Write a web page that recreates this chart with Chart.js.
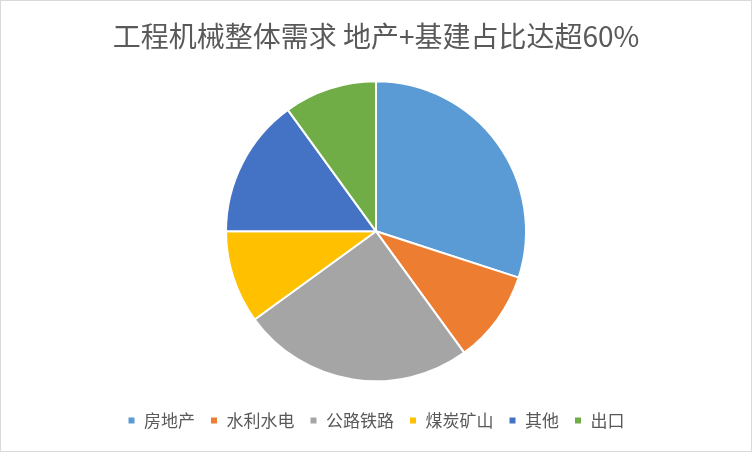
<!DOCTYPE html>
<html>
<head>
<meta charset="utf-8">
<script src="https://cdn.jsdelivr.net/npm/chart.js@4/dist/chart.umd.min.js"></script>
<style>
    html, body { margin: 0; padding: 0; background: #fff; }
    #wrap { width: 752px; height: 452px; box-sizing: border-box; border: 1px solid #d9d9d9; }
</style>
</head>
<body>
<div id="wrap"><canvas id="pieChart" width="750" height="450"></canvas></div>
<script>
// 工程机械需求构成（%）
var categorias = ['房地产', '水利水电', '公路铁路', '煤炭矿山', '其他', '出口'];
var valores = [30, 10, 25, 10, 15, 10];
var colores = ['#5B9BD5', '#ED7D31', '#A5A5A5', '#FFC000', '#4472C4', '#70AD47'];
var titulo = '工程机械整体需求 地产+基建占比达超60%';

function loadChartData() {
    var fuente = "'Noto Sans CJK SC', 'Microsoft YaHei', sans-serif";
    var pieChartCanvas = document.getElementById('pieChart').getContext('2d');
    var pieData = {
        labels: categorias,
        datasets: [
            {
                data: valores,
                backgroundColor: colores,
                borderColor: '#ffffff',
                borderWidth: 2,
                radius: 150
            }
        ]
    };
    var pieOptions = {
        responsive: false,
        animation: false,
        layout: { padding: { top: 0, bottom: 12 } },
        plugins: {
            title: {
                display: true,
                text: titulo,
                color: '#595959',
                font: { family: fuente, size: 28, weight: 'normal' },
                padding: { top: 19, bottom: 12 }
            },
            legend: {
                position: 'bottom',
                labels: {
                    color: '#595959',
                    font: { family: fuente, size: 17 },
                    boxWidth: 8,
                    boxHeight: 8,
                    padding: 15
                }
            },
            tooltip: { enabled: false }
        }
    };
    new Chart(pieChartCanvas, {
        type: 'pie',
        data: pieData,
        options: pieOptions
    });
}

loadChartData();
</script>
</body>
</html>
